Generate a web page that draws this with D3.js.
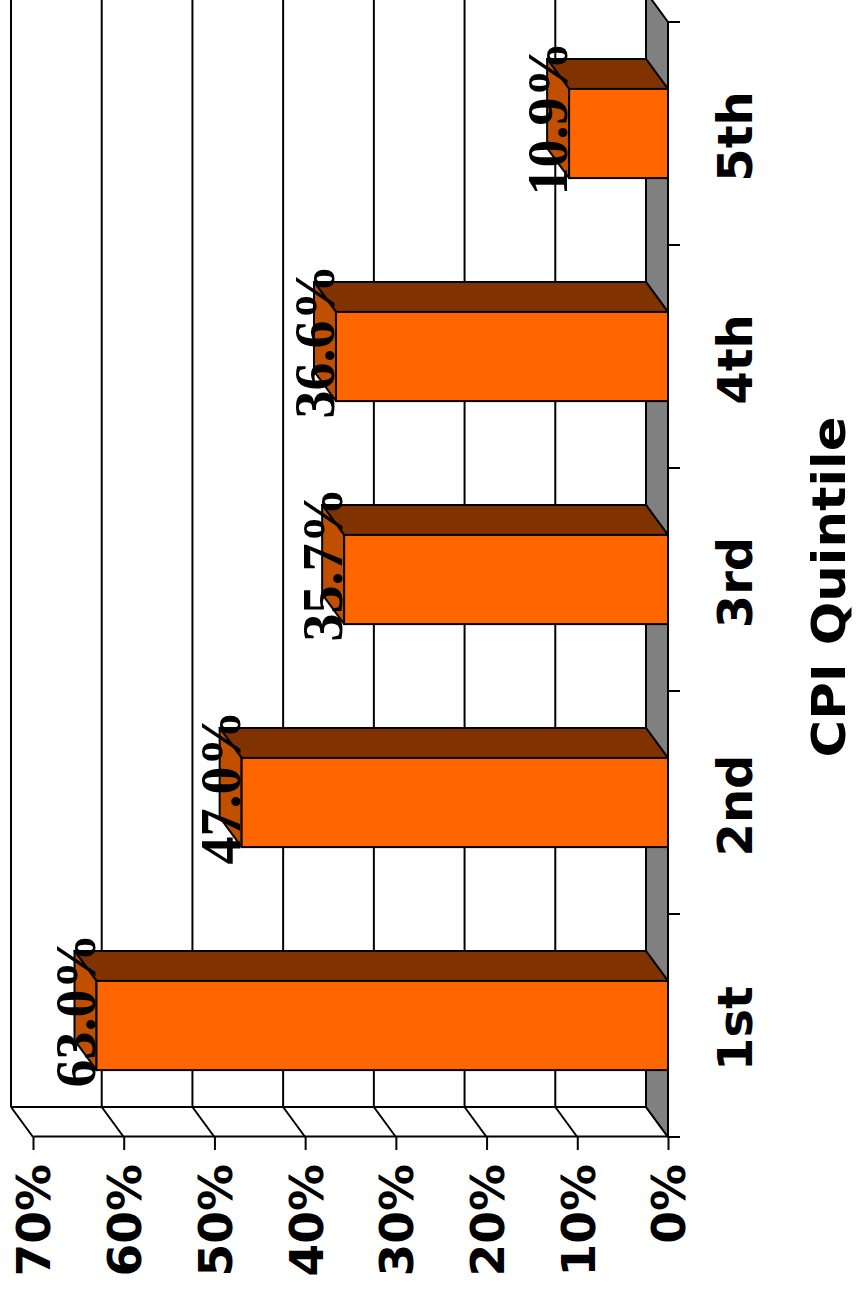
<!DOCTYPE html>
<html>
<head>
<meta charset="utf-8">
<script src="https://cdn.jsdelivr.net/npm/d3@7"></script>
<style>
  html, body { margin: 0; padding: 0; background: #fff; }
  svg { display: block; }
</style>
</head>
<body>
<svg id="chart" width="857" height="1293"></svg>
<script>
// Share of each CPI quintile
const categories = ["1st", "2nd", "3rd", "4th", "5th"];
const values = [0.630, 0.470, 0.357, 0.366, 0.109];
const valueTicks = [0, 0.1, 0.2, 0.3, 0.4, 0.5, 0.6, 0.7];
const axisTitle = "CPI Quintile";

const W = 1293, H = 857;          // chart drawn landscape, then turned a quarter turn
const depthX = 30, depthY = -22;  // 3D depth offset

const svg = d3.select("#chart");
const g = svg.append("g").attr("transform", `translate(0,${W}) rotate(-90)`);

const x = d3.scaleBand().domain(categories).range([156, 1271])
  .paddingInner(0.6).paddingOuter(0.3);
const y = d3.scaleLinear().domain([0, 0.7]).range([668, 33]);

const x0 = x.range()[0], x1 = x.range()[1];
const yBase = y(0), yTop = y(0.7);
const lineW = 2;

// back wall gridlines
g.append("g").selectAll("line").data(valueTicks).join("line")
  .attr("x1", x0 + depthX).attr("x2", x1 + depthX + 40)
  .attr("y1", d => y(d) + depthY).attr("y2", d => y(d) + depthY)
  .attr("stroke", "#000").attr("stroke-width", lineW);

// side wall gridlines
g.append("g").selectAll("line").data(valueTicks).join("line")
  .attr("x1", x0).attr("x2", x0 + depthX)
  .attr("y1", d => y(d)).attr("y2", d => y(d) + depthY)
  .attr("stroke", "#000").attr("stroke-width", lineW);

// wall corner edge
g.append("line")
  .attr("x1", x0 + depthX).attr("x2", x0 + depthX)
  .attr("y1", yTop + depthY).attr("y2", yBase + depthY)
  .attr("stroke", "#000").attr("stroke-width", lineW);

// floor
g.append("path")
  .attr("d", d3.line()([
    [x0, yBase], [x1, yBase], [x1 + depthX, yBase + depthY], [x0 + depthX, yBase + depthY]
  ]) + "Z")
  .attr("fill", "#808080").attr("stroke", "#000").attr("stroke-width", lineW)
  .attr("stroke-linejoin", "round");

// bars
const data = categories.map((c, i) => ({ c, v: values[i] }));
const bars = g.append("g").selectAll("g").data(data).join("g");

// side face
bars.append("path")
  .attr("d", d => {
    const r = x(d.c) + x.bandwidth(), t = y(d.v);
    return d3.line()([[r, t], [r + depthX, t + depthY], [r + depthX, yBase + depthY], [r, yBase]]) + "Z";
  })
  .attr("fill", "#803300").attr("stroke", "#000").attr("stroke-width", lineW)
  .attr("stroke-linejoin", "round");

// top face
bars.append("path")
  .attr("d", d => {
    const l = x(d.c), r = l + x.bandwidth(), t = y(d.v);
    return d3.line()([[l, t], [r, t], [r + depthX, t + depthY], [l + depthX, t + depthY]]) + "Z";
  })
  .attr("fill", "#c05000").attr("stroke", "#000").attr("stroke-width", lineW)
  .attr("stroke-linejoin", "round");

// front face
bars.append("rect")
  .attr("x", d => x(d.c)).attr("y", d => y(d.v))
  .attr("width", x.bandwidth()).attr("height", d => yBase - y(d.v))
  .attr("fill", "#ff6600").attr("stroke", "#000").attr("stroke-width", lineW);

// value axis
const yAxis = d3.axisLeft(y).tickValues(valueTicks).tickFormat(d3.format(".0%"))
  .tickSize(13).tickSizeOuter(0).tickPadding(14);
const ya = g.append("g").attr("transform", `translate(${x0},0)`).call(yAxis);
ya.select(".domain").attr("stroke", "#000").attr("stroke-width", lineW);
ya.selectAll(".tick line").attr("stroke", "#000").attr("stroke-width", lineW);
ya.selectAll(".tick text")
  .attr("font-family", "'Arial Black', 'DejaVu Sans', sans-serif")
  .attr("font-weight", "bold").attr("font-size", 47).attr("fill", "#000")
  .attr("dy", "0.36em");

// category axis line and boundary ticks
g.append("line").attr("x1", x0).attr("x2", x1).attr("y1", yBase).attr("y2", yBase)
  .attr("stroke", "#000").attr("stroke-width", lineW);
g.append("g").selectAll("line").data(d3.range(categories.length + 1)).join("line")
  .attr("x1", i => x0 + i * x.step()).attr("x2", i => x0 + i * x.step())
  .attr("y1", yBase).attr("y2", yBase + 12)
  .attr("stroke", "#000").attr("stroke-width", lineW);

// category labels
g.append("g").selectAll("text").data(categories).join("text")
  .attr("x", d => x(d) + x.bandwidth() / 2 - 3)
  .attr("y", 752)
  .attr("text-anchor", "middle")
  .attr("font-family", "'Arial Black', 'DejaVu Sans', sans-serif")
  .attr("font-weight", "bold").attr("font-size", 48).attr("fill", "#000")
  .text(d => d);

// axis title
g.append("text")
  .attr("x", 706).attr("y", 845)
  .attr("text-anchor", "middle")
  .attr("font-family", "'Arial Black', 'DejaVu Sans', sans-serif")
  .attr("font-weight", "bold").attr("font-size", 46).attr("fill", "#000")
  .attr("textLength", 341).attr("lengthAdjust", "spacingAndGlyphs")
  .text(axisTitle);

// value labels
g.append("g").selectAll("text").data(data).join("text")
  .attr("x", d => x(d.c) + x.bandwidth() / 2 + depthX / 2)
  .attr("y", d => y(d.v) - 2)
  .attr("text-anchor", "middle")
  .attr("font-family", "'Times New Roman', 'Liberation Serif', serif")
  .attr("font-weight", "bold").attr("font-size", 56).attr("fill", "#000")
  .text(d => d3.format(".1%")(d.v));
</script>
</body>
</html>
